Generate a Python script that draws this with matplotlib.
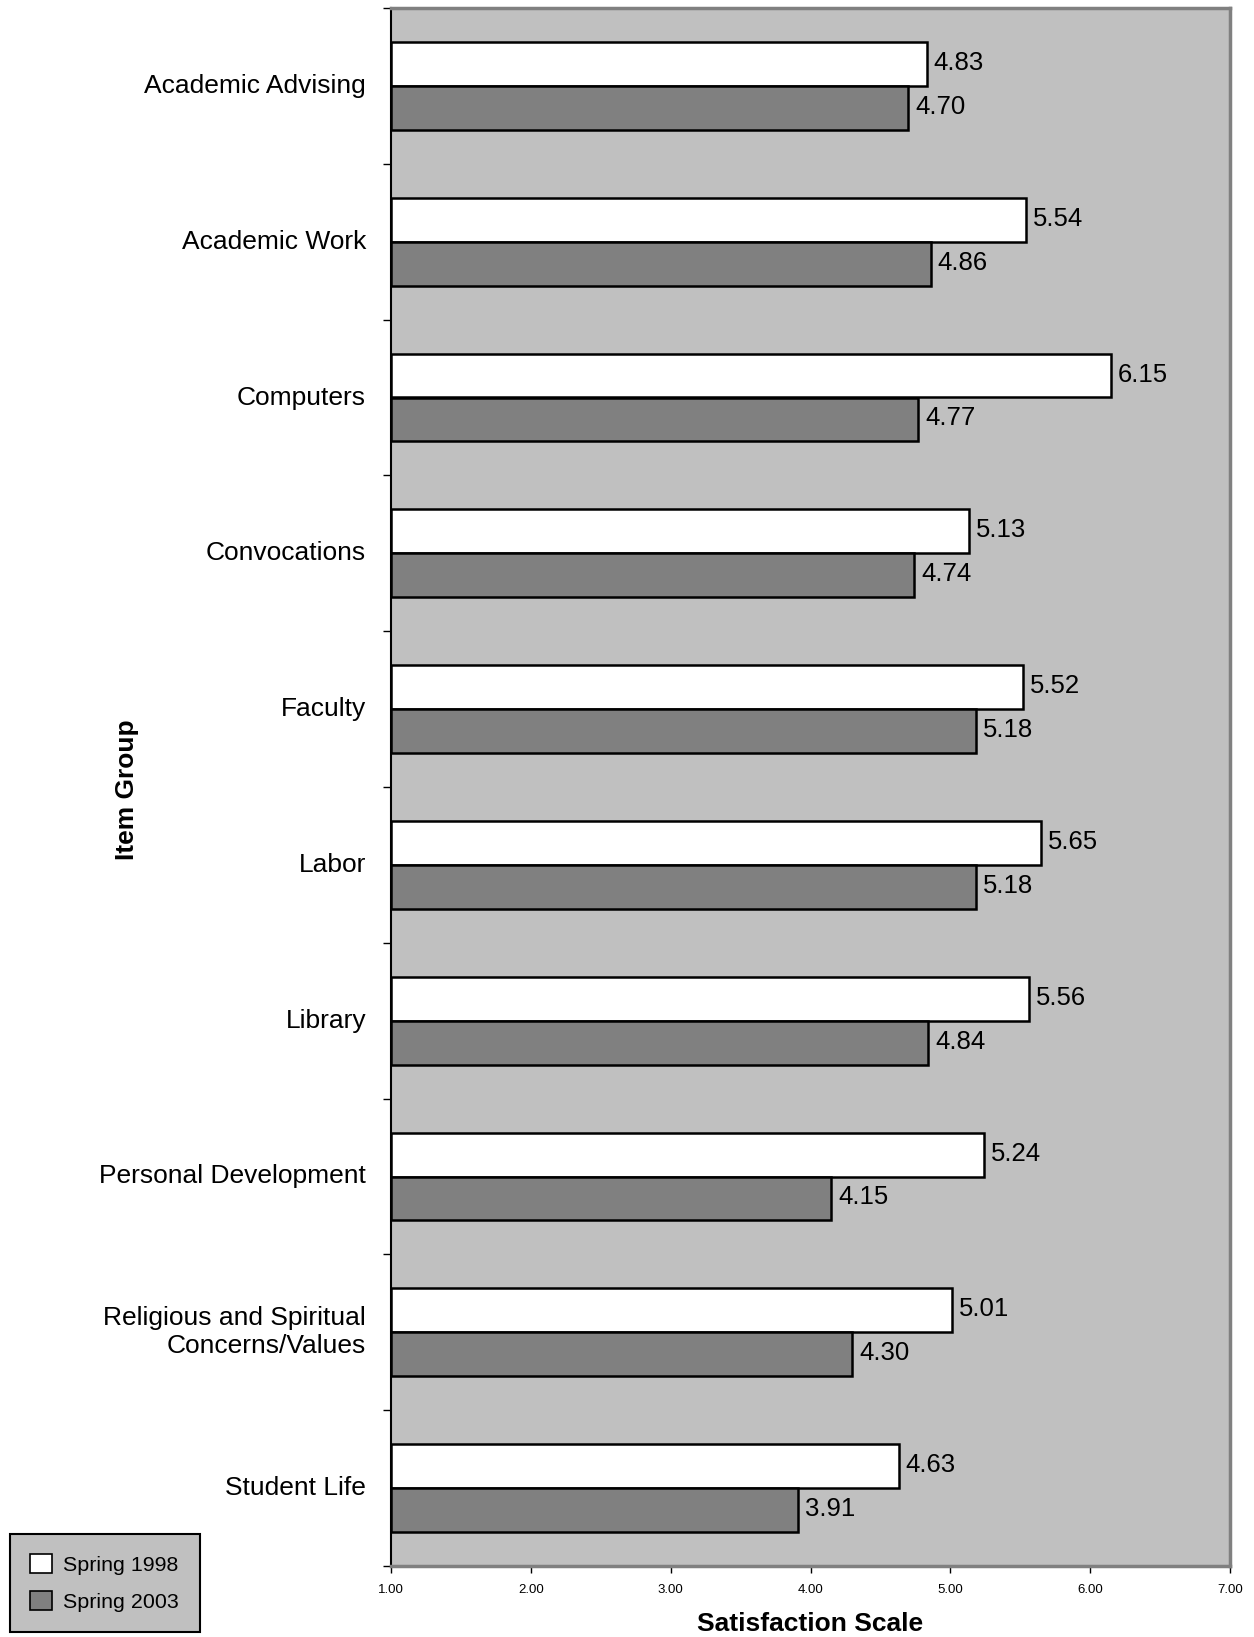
import matplotlib
matplotlib.use("Agg")
import matplotlib.pyplot as plt
import matplotlib.transforms as mtransforms
from matplotlib.patches import Patch
import numpy as np

plt.rcParams['font.family'] = ['Liberation Sans', 'DejaVu Sans']

categories = ["Academic Advising", "Academic Work", "Computers", "Convocations",
              "Faculty", "Labor", "Library", "Personal Development",
              "Religious and Spiritual\nConcerns/Values", "Student Life"]
spring_1998 = [4.83, 5.54, 6.15, 5.13, 5.52, 5.65, 5.56, 5.24, 5.01, 4.63]
spring_2003 = [4.70, 4.86, 4.77, 4.74, 5.18, 5.18, 4.84, 4.15, 4.30, 3.91]
series_names = ["Spring 1998", "Spring 2003"]
xticks = [1, 2, 3, 4, 5, 6, 7]

W, H = 1254, 1637
fig = plt.figure(figsize=(W / 100, H / 100), dpi=100)
ax = fig.add_axes([391 / W, 1 - 1566 / H, (1230 - 391) / W, (1566 - 8) / H])
ax.set_facecolor("#C0C0C0")

y = np.arange(len(categories))
h = 0.282
base = 1.0
ax.barh(y - h / 2, np.array(spring_1998) - base, left=base, height=h,
        color="white", edgecolor="black", linewidth=1.8, zorder=3)
ax.barh(y + h / 2, np.array(spring_2003) - base, left=base, height=h,
        color="#808080", edgecolor="black", linewidth=1.8, zorder=3)

for yi, v in zip(y, spring_1998):
    ax.annotate(f"{v:.2f}", (v, yi - h / 2), xytext=(7, 1), textcoords="offset pixels",
                ha="left", va="center", fontsize=18.5)
for yi, v in zip(y, spring_2003):
    ax.annotate(f"{v:.2f}", (v, yi + h / 2), xytext=(7, 1), textcoords="offset pixels",
                ha="left", va="center", fontsize=18.5)

ax.set_xlim(1, 7)
ax.set_ylim(len(categories) - 0.5, -0.5)
ax.set_xticks(xticks)
ax.set_xticklabels([f"{t:.2f}" for t in xticks], fontsize=9.5)
ax.tick_params(axis="x", direction="out", length=5, width=1, pad=8, color="black")

# category boundaries as ticks, labels as text
ax.set_yticks(np.arange(-0.5, len(categories), 1.0))
ax.set_yticklabels([])
ax.tick_params(axis="y", direction="out", length=6, width=1, color="black")
label_tr = ax.get_yaxis_transform() + mtransforms.ScaledTranslation(-25 / 100, 0, fig.dpi_scale_trans)
for yi, c in zip(y, categories):
    ax.text(0, yi, c, transform=label_tr, ha="right", va="center",
            fontsize=19, multialignment="right")

for s in ["top", "right", "bottom"]:
    ax.spines[s].set_color("#808080")
    ax.spines[s].set_linewidth(2.5)
ax.spines["left"].set_color("black")
ax.spines["left"].set_linewidth(1.5)

fig.text(127 / W, 1 - 790 / H, "Item Group", rotation=90, ha="center", va="center",
         fontsize=19, fontweight="bold")
fig.text(810 / W, 1 - 1624 / H, "Satisfaction Scale", ha="center", va="center",
         fontsize=19, fontweight="bold")

handles = [Patch(facecolor="white", edgecolor="black", linewidth=1.2),
           Patch(facecolor="#808080", edgecolor="black", linewidth=1.2)]
leg = fig.legend(handles, series_names, loc="lower left",
                 bbox_to_anchor=(10 / W, 5 / H), fontsize=15.4, frameon=True,
                 fancybox=False, edgecolor="black", facecolor="#C0C0C0", framealpha=1,
                 handlelength=1.0, handleheight=1.0, handletextpad=0.55,
                 borderpad=0.95, labelspacing=0.75, borderaxespad=0)
leg.get_frame().set_linewidth(1.5)

fig.savefig("out.png", dpi=100)
